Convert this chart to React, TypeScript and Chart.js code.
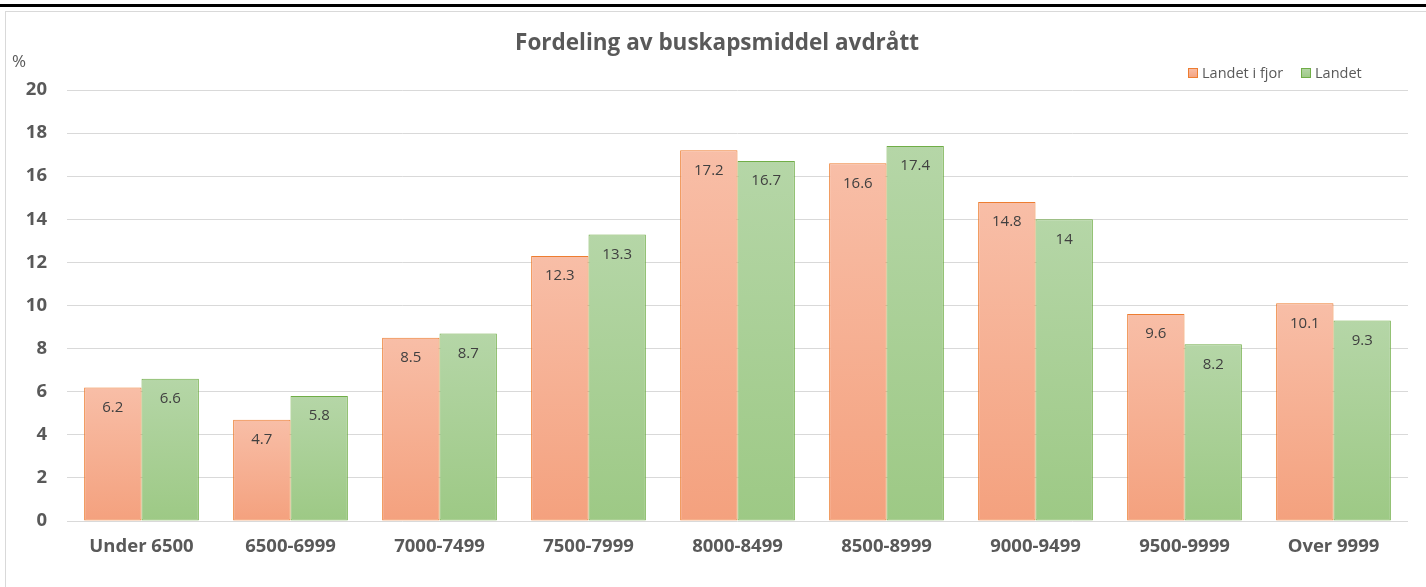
import React, { useEffect, useRef } from 'react';
import { Chart, registerables } from 'chart.js';

Chart.register(...registerables);

const categories = ['Under 6500', '6500-6999', '7000-7499', '7500-7999', '8000-8499', '8500-8999', '9000-9499', '9500-9999', 'Over 9999'];
const landetIFjor = [6.2, 4.7, 8.5, 12.3, 17.2, 16.6, 14.8, 9.6, 10.1];
const landet = [6.6, 5.8, 8.7, 13.3, 16.7, 17.4, 14, 8.2, 9.3];
const seriesNames = ['Landet i fjor', 'Landet'];
const titleText = 'Fordeling av buskapsmiddel avdrått';
const yUnit = '%';

const FONT = '"Open Sans", sans-serif';
const TEXT = '#595959';
const ORANGE = { top: '#F8BEA7', bottom: '#F4A17E', border: '#ED7D31' };
const GREEN = { top: '#B5D6A7', bottom: '#9DC985', border: '#70AD47' };

function gradientFor(colors: { top: string; bottom: string }) {
  return (ctx: any) => {
    const chart = ctx.chart;
    const area = chart.chartArea;
    if (!area || ctx.type !== 'data') return colors.bottom;
    const y = chart.scales.y;
    const top = y.getPixelForValue(ctx.raw);
    const bottom = y.getPixelForValue(0);
    if (!isFinite(top) || !isFinite(bottom) || top === bottom) return colors.bottom;
    const g = chart.ctx.createLinearGradient(0, top, 0, bottom);
    g.addColorStop(0, colors.top);
    g.addColorStop(1, colors.bottom);
    return g;
  };
}

const decorPlugin = {
  id: 'decor',
  afterDatasetsDraw(chart: any) {
    const c = chart.ctx;
    c.save();
    c.font = `15px ${FONT}`;
    c.fillStyle = '#404040';
    c.textAlign = 'center';
    c.textBaseline = 'middle';
    chart.data.datasets.forEach((ds: any, di: number) => {
      const meta = chart.getDatasetMeta(di);
      meta.data.forEach((el: any, i: number) => {
        c.fillText(String(ds.data[i]), el.x, el.y + 20);
      });
    });
    c.restore();
  },
  afterDraw(chart: any) {
    const c = chart.ctx;
    c.save();
    c.font = `bold 22.5px ${FONT}`;
    c.fillStyle = TEXT;
    c.textAlign = 'center';
    c.textBaseline = 'middle';
    c.fillText(titleText, 717, 44);
    c.font = `17px ${FONT}`;
    c.textAlign = 'left';
    c.fillText(yUnit, 12, 62);
    const items = [
      { x: 1188, colors: ORANGE, label: seriesNames[0] },
      { x: 1301, colors: GREEN, label: seriesNames[1] },
    ];
    items.forEach((it) => {
      const g = c.createLinearGradient(0, 68, 0, 78);
      g.addColorStop(0, it.colors.top);
      g.addColorStop(1, it.colors.bottom);
      c.fillStyle = g;
      c.fillRect(it.x, 68, 10, 10);
      c.strokeStyle = it.colors.border;
      c.lineWidth = 1;
      c.strokeRect(it.x + 0.5, 68.5, 9, 9);
      c.fillStyle = TEXT;
      c.font = `14.5px ${FONT}`;
      c.textAlign = 'left';
      c.textBaseline = 'middle';
      c.fillText(it.label, it.x + 14, 73.5);
    });
    c.restore();
  },
};

export default function App() {
  const ref = useRef<HTMLCanvasElement | null>(null);
  useEffect(() => {
    if (!ref.current) return;
    const chart = new Chart(ref.current, {
      type: 'bar',
      data: {
        labels: categories,
        datasets: [
          {
            label: seriesNames[0],
            data: landetIFjor,
            backgroundColor: gradientFor(ORANGE),
            borderColor: ORANGE.border,
            borderWidth: 1,
            borderSkipped: false,
            barPercentage: 1,
            categoryPercentage: 0.77,
          },
          {
            label: seriesNames[1],
            data: landet,
            backgroundColor: gradientFor(GREEN),
            borderColor: GREEN.border,
            borderWidth: 1,
            borderSkipped: false,
            barPercentage: 1,
            categoryPercentage: 0.77,
          },
        ],
      },
      options: {
        responsive: false,
        maintainAspectRatio: false,
        animation: false,
        layout: { padding: { left: 0, top: 90, right: 18, bottom: 0 } },
        plugins: {
          legend: { display: false },
          title: { display: false },
          tooltip: { enabled: false },
        },
        scales: {
          x: {
            grid: { display: false, drawTicks: false },
            border: { display: false },
            ticks: {
              color: TEXT,
              font: { family: FONT, size: 18.5, weight: 'bold' },
              padding: 15,
              maxRotation: 0,
            },
            afterFit: (s: any) => { s.height = 66; },
          },
          y: {
            min: 0,
            max: 20,
            ticks: {
              stepSize: 2,
              color: TEXT,
              font: { family: FONT, size: 18.5, weight: 'bold' },
              padding: 20,
            },
            grid: { color: '#D9D9D9', lineWidth: 1, drawTicks: false },
            border: { display: false },
            afterFit: (s: any) => { s.width = 67; },
          },
        },
      },
      plugins: [decorPlugin],
    });
    return () => chart.destroy();
  }, []);

  return (
    <div style={{ position: 'absolute', left: 0, top: 0, width: 1426, height: 587, background: '#fff', overflow: 'hidden' }}>
      <div style={{ position: 'absolute', left: 0, top: 4, width: 1426, height: 3, background: '#000' }} />
      <div style={{ position: 'absolute', left: 5, top: 11, width: 1440, height: 600, border: '1px solid #D9D9D9', boxSizing: 'border-box' }} />
      <canvas ref={ref} width={1426} height={587} style={{ position: 'absolute', left: 0, top: 0, display: 'block' }} />
    </div>
  );
}
